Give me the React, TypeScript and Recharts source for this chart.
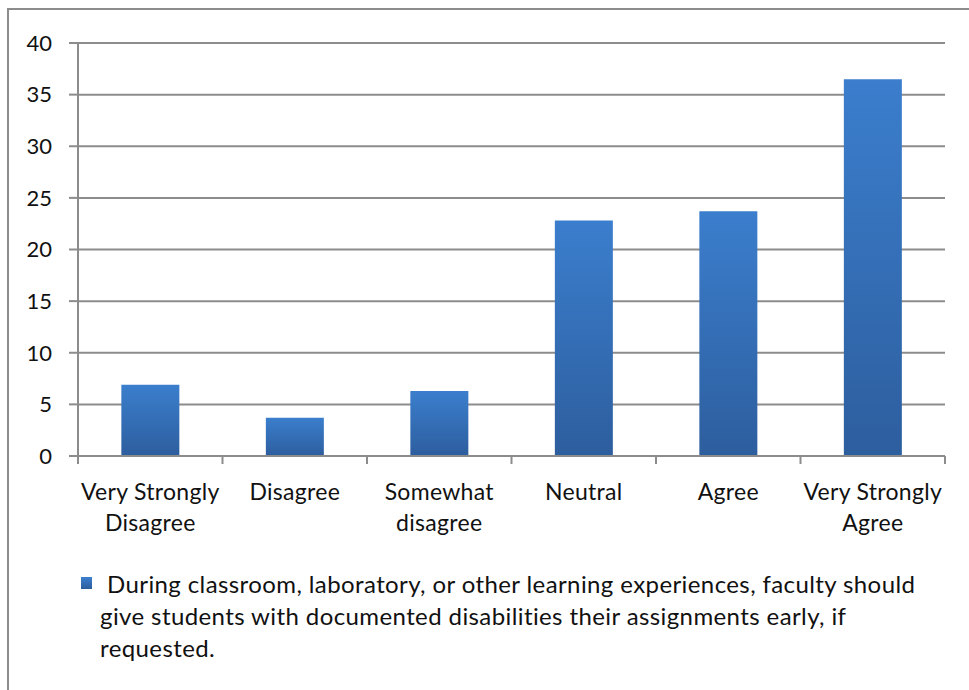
import { BarChart, Bar, XAxis, YAxis, CartesianGrid, Legend } from 'recharts';

// survey responses, percent of respondents
const categories = [
  'Very Strongly Disagree',
  'Disagree',
  'Somewhat disagree',
  'Neutral',
  'Agree',
  'Very Strongly Agree',
];
const responses = [6.9, 3.7, 6.3, 22.8, 23.7, 36.5];
const yTicks = [0, 5, 10, 15, 20, 25, 30, 35, 40];
const seriesName =
  'During classroom, laboratory, or other learning experiences, faculty should give students with documented disabilities their assignments early, if requested.';

const chartData = categories.map((name, i) => ({ name, value: responses[i] }));

const WIDTH = 969;
const HEIGHT = 690;
const PLOT_LEFT = 78;
const PLOT_RIGHT = 945;
const PLOT_TOP = 43;
const PLOT_BOTTOM = 456;
const XAXIS_H = 80;
const LEGEND_H = 110;
const BAND = (PLOT_RIGHT - PLOT_LEFT) / categories.length;

const FONT = 'Lato, "Open Sans", sans-serif';
const AXIS_GRAY = '#8c8c8c';
const TEXT = '#111';

// split long labels at the last space so they sit on two lines
function wrapLabel(label: string): string[] {
  const idx = label.lastIndexOf(' ');
  if (idx < 0) return [label];
  return [label.slice(0, idx), label.slice(idx + 1)];
}

function CategoryTick(props: any) {
  const { x, index, payload } = props;
  const lines = wrapLabel(String(payload.value));
  const left = x - BAND / 2;
  return (
    <g>
      <line x1={left} y1={PLOT_BOTTOM} x2={left} y2={PLOT_BOTTOM + 8} stroke={AXIS_GRAY} strokeWidth={2} />
      {index === categories.length - 1 && (
        <line
          x1={left + BAND}
          y1={PLOT_BOTTOM}
          x2={left + BAND}
          y2={PLOT_BOTTOM + 8}
          stroke={AXIS_GRAY}
          strokeWidth={2}
        />
      )}
      {lines.map((line, i) => (
        <text
          key={i}
          x={x}
          y={PLOT_BOTTOM + 36 + i * 31}
          dy="0.355em"
          textAnchor="middle"
          fontFamily={FONT}
          fontSize={23}
          letterSpacing={0.3}
          fill={TEXT}
        >
          {line}
        </text>
      ))}
    </g>
  );
}

function LegendBox(props: any) {
  const item = props.payload?.[0];
  return (
    <div style={{ position: 'relative', width: WIDTH, height: LEGEND_H }}>
      <div
        style={{
          position: 'absolute',
          left: 81,
          top: 7,
          width: 11,
          height: 12,
          background: 'linear-gradient(#3d7fcf, #2c5d9c)',
        }}
      />
      <div
        style={{
          position: 'absolute',
          left: 100,
          top: -2,
          width: 840,
          fontFamily: FONT,
          fontSize: 24,
          letterSpacing: 0.4,
          lineHeight: '32px',
          color: TEXT,
          textIndent: 7,
          textAlign: 'left',
        }}
      >
        {item ? item.value : seriesName}
      </div>
    </div>
  );
}

export default function App() {
  return (
    <div style={{ position: 'absolute', left: 0, top: 0, width: WIDTH, height: HEIGHT, background: '#fff', overflow: 'hidden' }}>
      <div
        style={{
          position: 'absolute',
          left: 7,
          top: 8,
          width: WIDTH,
          height: HEIGHT,
          borderLeft: `2px solid ${AXIS_GRAY}`,
          borderTop: `2px solid ${AXIS_GRAY}`,
        }}
      />
      <div style={{ position: 'absolute', left: 0, top: 0 }}>
        <BarChart
          width={WIDTH}
          height={HEIGHT}
          data={chartData}
          margin={{
            top: PLOT_TOP,
            right: WIDTH - PLOT_RIGHT,
            bottom: HEIGHT - PLOT_BOTTOM - XAXIS_H - LEGEND_H,
            left: 8,
          }}
          barCategoryGap="30%"
        >
          <defs>
            <linearGradient id="barFill" x1="0" y1="0" x2="0" y2="1">
              <stop offset="0%" stopColor="#3b7ecd" />
              <stop offset="100%" stopColor="#2d5e9e" />
            </linearGradient>
          </defs>
          <CartesianGrid vertical={false} stroke={AXIS_GRAY} strokeWidth={2} />
          <XAxis
            dataKey="name"
            interval={0}
            axisLine={{ stroke: AXIS_GRAY, strokeWidth: 2 }}
            tickLine={false}
            tick={<CategoryTick />}
            height={XAXIS_H}
          />
          <YAxis
            width={PLOT_LEFT - 8}
            domain={[0, 40]}
            ticks={yTicks}
            interval={0}
            axisLine={{ stroke: AXIS_GRAY, strokeWidth: 2 }}
            tickLine={{ stroke: AXIS_GRAY, strokeWidth: 2 }}
            tickSize={9}
            tickMargin={17}
            tick={{ fontFamily: FONT, fontSize: 22, fill: TEXT }}
          />
          <Legend
            verticalAlign="bottom"
            content={<LegendBox />}
            wrapperStyle={{ position: 'absolute', left: 0, top: 570, width: WIDTH }}
          />
          <Bar dataKey="value" name={seriesName} fill="url(#barFill)" isAnimationActive={false} />
        </BarChart>
      </div>
    </div>
  );
}
